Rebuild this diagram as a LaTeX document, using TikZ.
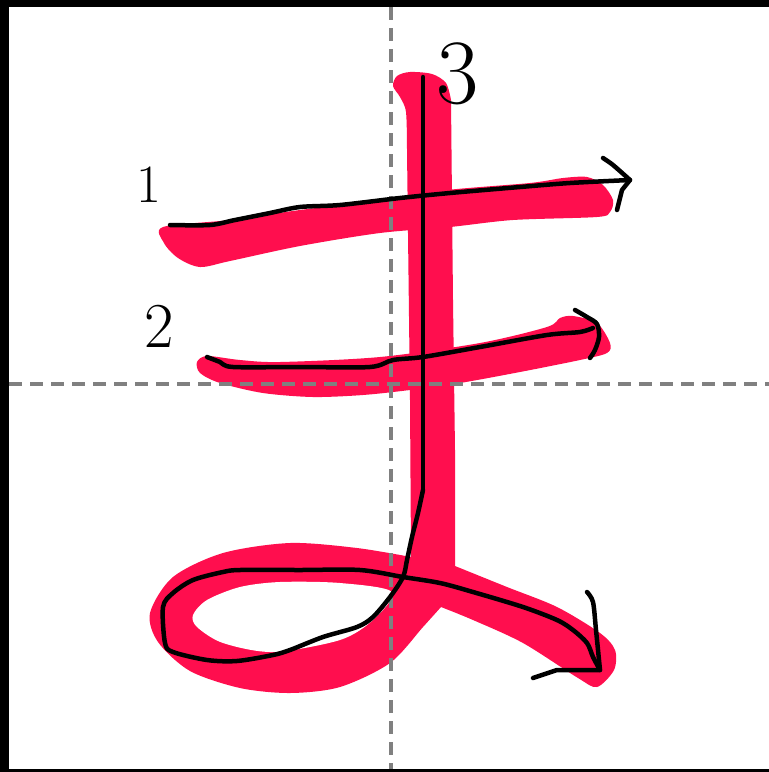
\documentclass[tikz,border=0pt]{standalone}
\definecolor{strokered}{RGB}{255,14,78}
\definecolor{guidegray}{RGB}{128,128,128}
\begin{document}
\begin{tikzpicture}[x=1pt,y=-1pt,
  redstroke/.style={fill=strokered, draw=none},
  guide/.style={draw=guidegray, line width=4.2pt, dash pattern=on 13pt off 8pt},
  trace/.style={draw=black, line width=4.5pt, line cap=round, line join=round},
  numlabel/.style={text=black, inner sep=0pt}]
\useasboundingbox (0,0) rectangle (769,772);
\fill[white] (0,0) rectangle (769,772);

% stroke 1 (upper horizontal)
\fill[redstroke] plot[smooth cycle] coordinates {(163,227) (230,220) (300,210) (380,200) (447,190) (530,183) (563,178) (587,177) (603,185) (613,200) (610,212) (597,217) (513,220) (450,227) (380,233) (300,246) (230,261) (200,267) (178,258) (164,243)};

% stroke 2 (lower horizontal)
\fill[redstroke] plot[smooth cycle] coordinates {(197,362) (207,356) (240,360) (280,362) (380,357) (480,343) (547,327) (560,318) (573,316) (597,323) (610,343) (607,353) (580,360) (520,372) (460,383) (410,390) (363,395) (313,397) (263,393) (220,383) (200,373)};

% stroke 3 (vertical with loop and tail)
\fill[redstroke] plot[smooth] coordinates {(407,150) (406,112) (400,97) (393,86) (397,76) (410,72) (432,74) (446,83) (451,100)}
  -- (453,300) -- (455,450)
  -- plot[smooth] coordinates {(455,566) (507,587) (557,607) (600,633) (615,650) (614,670) (597,687) (578,678) (523,643) (473,620) (441,607)}
  -- plot[smooth] coordinates {(441,607) (423,627) (390,663) (340,687) (290,693) (240,688) (190,671) (158,642) (150,613) (173,577) (223,553) (290,543) (357,548) (411,557)}
  -- (410,400) -- cycle;
\fill[white] plot[smooth cycle] coordinates {(392,592) (373,620) (340,640) (273,652) (223,643) (197,627) (193,615) (207,600) (240,587) (280,582) (340,583)};

% guide lines
\draw[guide] (391,7) -- (391,769);
\draw[guide] (9,384) -- (769,384);

% frame
\fill[black] (0,0) rectangle (769,7);
\fill[black] (0,0) rectangle (9,772);
\fill[black] (0,769) rectangle (769,772);

% stroke traces
\coordinate (t1s) at (170,225);
\coordinate (t1e) at (630,180);
\draw[trace] plot[smooth] coordinates {(170,225) (210,225) (235,220) (270,213) (300,207) (340,205) (400,198) (450,193) (520,187) (570,183) (630,180)};
\draw[trace] plot[smooth] coordinates {(603,158) (613,165) (630,180)} -- (622,190) -- (617,210);

\coordinate (t2s) at (207,357);
\coordinate (t2e) at (593,328);
\draw[trace] plot[smooth] coordinates {(207,357) (220,362) (233,367) (300,367) (370,367) (393,360) (423,357) (480,347) (547,335) (580,332) (593,328)};
\draw[trace] plot[smooth] coordinates {(575,310) (587,317) (597,324) (599,337) (595,350) (590,358)};

\coordinate (t3s) at (423,77);
\coordinate (t3e) at (600,670);
\draw[trace] (t3s) -- (423,490);
\draw[trace] plot[smooth] coordinates {(423,490) (418,513) (412,537) (407,560) (403,577) (390,597) (373,617) (357,627) (323,637) (290,650) (273,655) (237,661) (207,660) (173,652) (165,643) (163,607) (173,593) (193,580) (223,572) (240,570) (300,570) (360,570) (403,577) (440,583) (473,592) (523,607) (557,620) (573,630) (587,643) (593,657) (600,670)};
\draw[trace] plot[smooth] coordinates {(587,592) (593,602) (596,630) (600,670)} -- (557,670) -- (533,678);

% stroke numbers
\node[numlabel, font=\fontsize{54}{54}\selectfont] (n1) at (149,185) {1};
\node[numlabel, font=\fontsize{64}{64}\selectfont] (n2) at (159,326) {2};
\node[numlabel, font=\fontsize{92}{92}\selectfont] (n3) at (458,74) {3};
\end{tikzpicture}
\end{document}
